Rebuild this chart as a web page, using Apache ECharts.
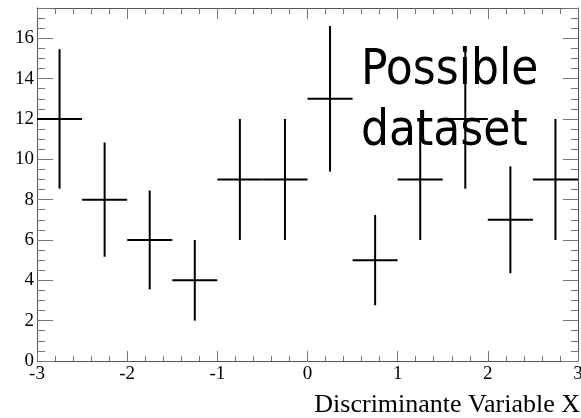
<!DOCTYPE html>
<html>
<head>
<meta charset="utf-8">
<script src="https://cdn.jsdelivr.net/npm/echarts@6/dist/echarts.min.js"></script>
<style>
  html, body { margin: 0; padding: 0; background: #fff; }
  #chart { width: 581px; height: 418px; }
</style>
</head>
<body>
<div id="chart"></div>
<script>
// bin edges (12 bins of 0.5 from -3 to 3)
var binEdges = [-3, -2.5, -2, -1.5, -1, -0.5, 0, 0.5, 1, 1.5, 2, 2.5, 3]
// entries per bin
var counts = [12, 8, 6, 4, 9, 9, 13, 5, 9, 12, 7, 9]
// error on each bin
var errors = [3.46, 2.83, 2.45, 2.0, 3.0, 3.0, 3.61, 2.24, 3.0, 3.46, 2.65, 3.0]

var xTitle = 'Discriminante Variable X'
var noteLines = ['Possible', 'dataset']

var data = []
for (var i = 0; i < counts.length; i++) {
  data.push([binEdges[i], binEdges[i + 1], counts[i], errors[i]])
}

var serif = '"Liberation Serif", "DejaVu Serif", serif'
var lineCol = '#555'
var tickCol = '#777'

function frameAxis(pos, isX, showLabel, tickLen, minorLen) {
  return {
    type: 'value',
    position: pos,
    min: isX ? -3 : 0,
    max: isX ? 3 : 17.5,
    interval: isX ? 1 : 2,
    axisLine: { show: true, onZero: false, lineStyle: { color: lineCol, width: 1 } },
    axisTick: { show: true, inside: true, length: tickLen, lineStyle: { color: tickCol, width: 1 } },
    minorTick: { show: true, splitNumber: isX ? 5 : 4, length: minorLen, lineStyle: { color: tickCol, width: 1 } },
    splitLine: { show: false },
    axisLabel: {
      show: showLabel,
      color: '#000',
      fontFamily: serif,
      fontSize: 19,
      margin: isX ? 4 : 3,
      showMaxLabel: isX,
      showMinLabel: true
    }
  }
}

var chart = echarts.init(document.getElementById('chart'))
chart.setOption({
  animation: false,
  backgroundColor: '#fff',
  grid: { left: 37, right: 3, top: 8, bottom: 57, containLabel: false, outerBoundsMode: 'none' },
  xAxis: [
    frameAxis('bottom', true, true, 10, 5),
    frameAxis('top', true, false, 11, 6)
  ],
  yAxis: [
    frameAxis('left', false, true, 16, 8),
    frameAxis('right', false, false, 15, 7)
  ],
  graphic: [
    {
      type: 'text',
      right: 1,
      top: 392,
      style: { text: xTitle, fill: '#000', font: '26px ' + serif }
    },
    {
      type: 'text',
      left: 361,
      top: 41,
      style: {
        text: noteLines.join('\n'),
        fill: '#000',
        font: '49px "DejaVu Sans Condensed", "DejaVu Sans", sans-serif',
        lineHeight: 61
      }
    }
  ],
  series: [{
    type: 'custom',
    xAxisIndex: 0,
    yAxisIndex: 0,
    data: data,
    renderItem: function (params, api) {
      var lo = api.value(0), hi = api.value(1), y = api.value(2), e = api.value(3)
      var xc = (lo + hi) / 2
      var pL = api.coord([lo, y]), pR = api.coord([hi, y])
      var pT = api.coord([xc, y + e]), pB = api.coord([xc, y - e])
      var st = { stroke: '#000', lineWidth: 2 }
      return {
        type: 'group',
        children: [
          { type: 'line', shape: { x1: pL[0], y1: pL[1], x2: pR[0], y2: pR[1] }, style: st },
          { type: 'line', shape: { x1: pT[0], y1: pT[1], x2: pB[0], y2: pB[1] }, style: st }
        ]
      }
    }
  }]
})
</script>
</body>
</html>
